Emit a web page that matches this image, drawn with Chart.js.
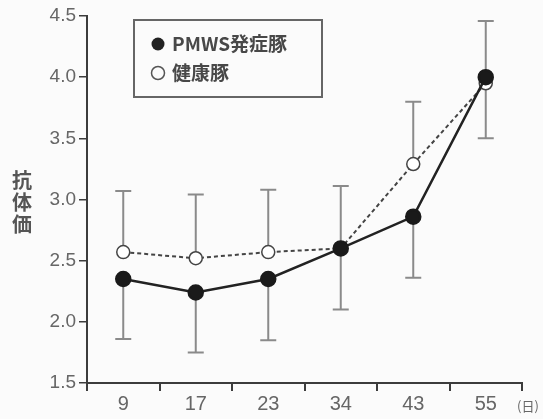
<!DOCTYPE html>
<html>
<head>
<meta charset="utf-8">
<script src="https://cdn.jsdelivr.net/npm/chart.js@4"></script>
<style>
  html, body { margin: 0; padding: 0; background: #fbfbfb; }
  #wrap { width: 543px; height: 419px; }
</style>
</head>
<body>
<div id="wrap"><canvas id="chart" width="543" height="419"></canvas></div>
<script>
// days after birth
const days = ["9", "17", "23", "34", "43", "55"];
// mean antibody titre
const pmwsValues = [2.35, 2.24, 2.35, 2.60, 2.86, 4.00];
const healthyValues = [2.57, 2.52, 2.57, 2.60, 3.29, 3.95];
// one-sided error bars: PMWS goes down, healthy goes up
const pmwsLow = [1.86, 1.75, 1.85, 2.10, 2.36, 3.50];
const healthyHigh = [3.07, 3.04, 3.08, 3.11, 3.80, 4.46];
const yTicks = [1.5, 2.0, 2.5, 3.0, 3.5, 4.0, 4.5];

const axisColor = "#3c3c3c";
const labelColor = "#666";

// error bars under the points
const errorBars = {
    id: "errorBars",
    beforeDatasetsDraw(chart) {
        const ctx = chart.ctx;
        const x = chart.scales.x, y = chart.scales.y;
        ctx.save();
        ctx.strokeStyle = "#8a8a8a";
        ctx.lineWidth = 2;
        const bar = (i, from, to) => {
            const px = x.getPixelForValue(i);
            const y1 = y.getPixelForValue(from), y2 = y.getPixelForValue(to);
            ctx.beginPath();
            ctx.moveTo(px, y1); ctx.lineTo(px, y2);
            ctx.moveTo(px - 8, y2); ctx.lineTo(px + 8, y2);
            ctx.stroke();
        };
        days.forEach((d, i) => {
            bar(i, pmwsValues[i], pmwsLow[i]);
            bar(i, healthyValues[i], healthyHigh[i]);
        });
        ctx.restore();
    }
};

// boxed legend, y title and unit
const extras = {
    id: "extras",
    afterDraw(chart) {
        const ctx = chart.ctx;
        ctx.save();
        // legend box
        ctx.strokeStyle = "#666";
        ctx.lineWidth = 2;
        ctx.strokeRect(134, 20, 188, 77);
        ctx.font = "bold 19px 'Noto Sans CJK JP', sans-serif";
        ctx.textBaseline = "middle";
        ctx.fillStyle = "#222";
        ctx.beginPath(); ctx.arc(158, 44, 6.5, 0, Math.PI * 2); ctx.fill();
        ctx.fillStyle = "#484848";
        ctx.fillText("PMWS発症豚", 172, 44);
        ctx.strokeStyle = "#555";
        ctx.lineWidth = 1.5;
        ctx.beginPath(); ctx.arc(158, 73, 6.5, 0, Math.PI * 2); ctx.stroke();
        ctx.fillText("健康豚", 172, 73);
        // y axis title, stacked characters
        ctx.font = "bold 20px 'Noto Sans CJK JP', sans-serif";
        ctx.textAlign = "center";
        ctx.fillStyle = "#555";
        ["抗", "体", "価"].forEach((c, i) => ctx.fillText(c, 22, 180 + i * 22));
        // unit
        ctx.font = "13px 'Noto Sans CJK JP', sans-serif";
        ctx.fillStyle = labelColor;
        ctx.fillText("(日)", 528, 406);
        ctx.restore();
    }
};

new Chart(document.getElementById("chart"), {
    type: "line",
    data: {
        labels: days,
        datasets: [{
            label: "PMWS発症豚",
            data: pmwsValues,
            borderColor: "#222",
            borderWidth: 2.5,
            pointRadius: 7,
            pointBackgroundColor: "#1a1a1a",
            pointBorderColor: "#1a1a1a",
            tension: 0
        }, {
            label: "健康豚",
            data: healthyValues,
            borderColor: "#444",
            borderWidth: 2,
            borderDash: [4, 3],
            pointRadius: 6.5,
            pointBorderWidth: 1.5,
            pointBackgroundColor: "#fff",
            pointBorderColor: "#444",
            tension: 0
        }]
    },
    options: {
        responsive: false,
        animation: false,
        layout: { padding: { top: 16, right: 21, left: 0, bottom: 0 } },
        plugins: { legend: { display: false }, tooltip: { enabled: false } },
        scales: {
            x: {
                offset: true,
                grid: { display: true, drawOnChartArea: false, drawTicks: true, tickLength: 8, offset: true, color: axisColor, lineWidth: 2 },
                border: { color: axisColor, width: 2 },
                ticks: { color: labelColor, font: { family: "'Liberation Sans', Arial", size: 20 }, padding: 1 },
                afterFit: s => { s.height = 36; }
            },
            y: {
                min: 1.5, max: 4.5,
                afterBuildTicks: s => { s.ticks = yTicks.map(v => ({ value: v })); },
                grid: { display: true, drawOnChartArea: false, drawTicks: true, tickLength: 8, color: axisColor, lineWidth: 1.5 },
                border: { color: axisColor, width: 2 },
                ticks: { color: labelColor, font: { family: "'Liberation Sans', Arial", size: 19 }, padding: 3, callback: v => v.toFixed(1) },
                afterFit: s => { s.width = 87; }
            }
        }
    },
    plugins: [errorBars, extras]
});
</script>
</body>
</html>
